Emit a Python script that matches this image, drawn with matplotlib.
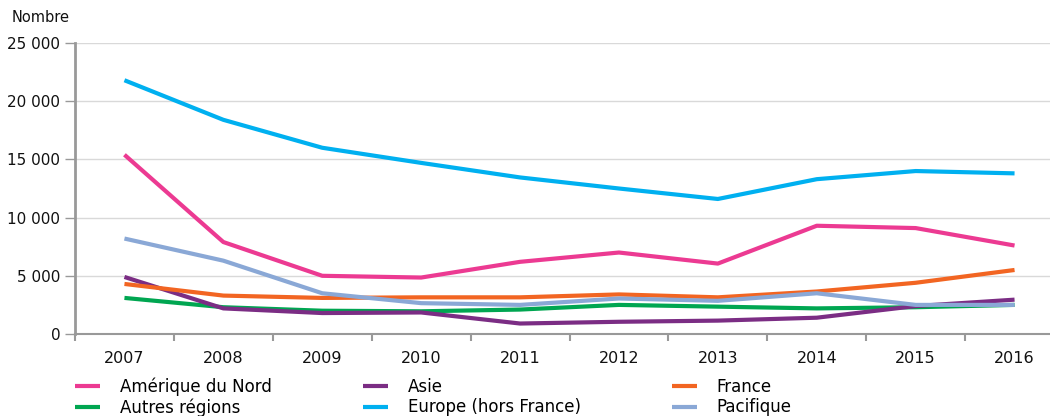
import matplotlib.pyplot as plt
import matplotlib.ticker as mtick
import numpy as np

years = ["2007", "2008", "2009", "2010", "2011", "2012", "2013", "2014", "2015", "2016"]

amerique_nord = [15400, 7900, 5000, 4850, 6200, 7000, 6050, 9300, 9100, 7600]
autres_regions = [3100, 2300, 2000, 1950, 2100, 2500, 2350, 2200, 2300, 2500]
asie = [4900, 2200, 1800, 1850, 900, 1050, 1150, 1400, 2400, 2950]
europe = [21800, 18400, 16000, 14700, 13450, 12500, 11600, 13300, 14000, 13800]
france = [4300, 3300, 3100, 3150, 3150, 3400, 3150, 3650, 4400, 5500]
pacifique = [8200, 6300, 3500, 2650, 2500, 3050, 2850, 3500, 2500, 2500]

series = [
    ("Amérique du Nord", amerique_nord, "#EC3A92"),
    ("Autres régions", autres_regions, "#00A651"),
    ("Asie", asie, "#7B2D84"),
    ("Europe (hors France)", europe, "#00B0F0"),
    ("France", france, "#F26522"),
    ("Pacifique", pacifique, "#8AA8D6"),
]

plt.rcParams["font.family"] = ["DejaVu Sans"]

fig = plt.figure(figsize=(10.5, 4.16), dpi=100)
ax = fig.add_axes([75 / 1050, 82 / 416, 989 / 1050, 291 / 416])

x = np.arange(len(years))
for name, vals, color in series:
    ax.plot(x, vals, color=color, lw=3.0, label=name, solid_capstyle="butt")

ax.set_xlim(-0.5, len(years) - 0.5)
ax.set_ylim(0, 25000)
ax.set_yticks(np.arange(0, 25001, 5000))
ax.yaxis.set_major_formatter(mtick.FuncFormatter(lambda v, p: f"{int(v):,}".replace(",", " ")))
ax.set_xticks(x)
ax.set_xticklabels(years)
ax.set_xticks(np.arange(-0.5, len(years)), minor=True)
ax.tick_params(axis="x", which="major", length=0, pad=12, labelsize=11.5, colors="#111111")
ax.tick_params(axis="x", which="minor", length=5, width=1.5, color="#999999", direction="out")
ax.tick_params(axis="y", length=7, width=1, color="#999999", labelsize=11, labelcolor="#111111")

ax.grid(axis="y", color="#D9D9D9", lw=1)
ax.set_axisbelow(True)
for s in ["top", "right"]:
    ax.spines[s].set_visible(False)
ax.spines["left"].set_color("#999999")
ax.spines["left"].set_linewidth(2)
ax.spines["bottom"].set_color("#999999")
ax.spines["bottom"].set_linewidth(1.5)

fig.text(12 / 1050, 1 - 18 / 416, "Nombre", fontsize=10.5, va="center", ha="left", color="#111111")

fig.legend(loc="upper left", bbox_to_anchor=(75 / 1050, 1 - 377 / 416), ncol=3,
           frameon=False, fontsize=12, handlelength=1.5, handletextpad=1.2,
           columnspacing=5.45, labelspacing=0.17, borderaxespad=0, borderpad=0)

fig.savefig("out.png", dpi=100)
